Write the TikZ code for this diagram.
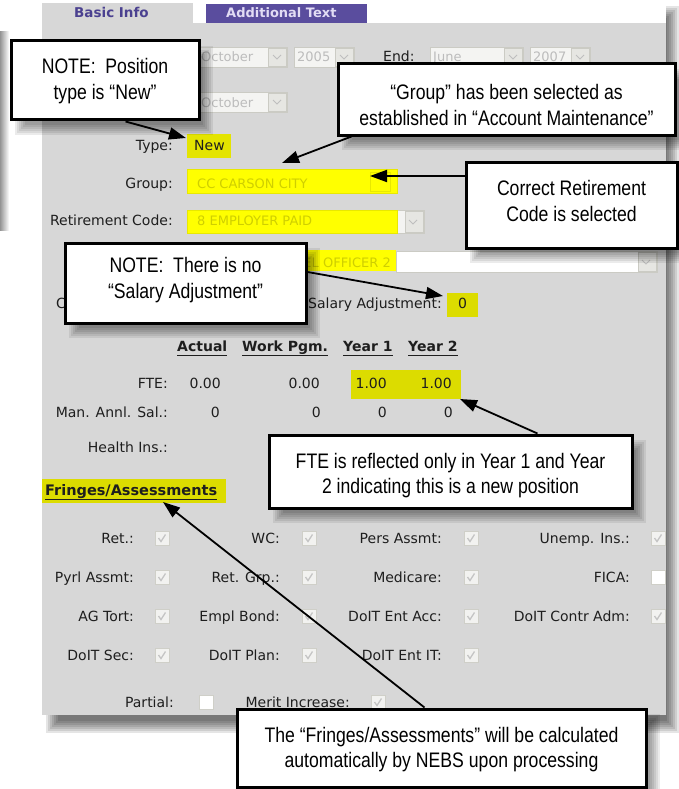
\documentclass[tikz,border=0pt]{standalone}
\usepackage{fontspec}
\setmainfont{DejaVu Sans}
\newfontfamily\callfont[FakeStretch=0.84]{Liberation Sans}
\usetikzlibrary{arrows.meta,calc}
\definecolor{panelgray}{HTML}{D7D7D7}
\definecolor{hiyel}{HTML}{FFFF00}
\definecolor{hiyelb}{HTML}{E8E800}
\definecolor{oliveyel}{HTML}{DCDC00}
\definecolor{newyel}{HTML}{E4E400}
\definecolor{yeltext}{HTML}{CFCF00}
\definecolor{ddtext}{HTML}{BCBCBC}
\definecolor{ddborder}{HTML}{CBCBC4}
\definecolor{ddfill}{HTML}{F4F4F2}
\definecolor{btnfill}{HTML}{E6E6E2}
\definecolor{ddchev}{HTML}{BEBEBE}
\definecolor{tabpurple}{HTML}{5A4D9E}
\definecolor{tabtext}{HTML}{4B4190}
\definecolor{tabtextw}{HTML}{E2DCF4}
\definecolor{labeltext}{HTML}{1E1E1E}
\definecolor{cbfill}{HTML}{F2F2F0}
\definecolor{cbborder}{HTML}{CFCFC8}
\definecolor{cbcheck}{HTML}{C4C4C4}
\newcommand{\ddbox}[4]{%
  \draw[ddborder, fill=ddfill] (#1,#2) rectangle (#3,#4);
  \draw[ddborder, fill=btnfill] ({#3-19},{#2+1}) rectangle ({#3-1},{#4-1});
  \draw[ddchev, line width=1pt] ({#3-14},{(#2+#4)/2-2}) -- ({#3-10},{(#2+#4)/2+2}) -- ({#3-6},{(#2+#4)/2-2});
}
\newcommand{\cboxon}[2]{%
  \draw[cbborder, fill=cbfill] (#1,#2) rectangle ++(14,14);
  \draw[cbcheck, line width=1.3pt] ({#1+3.5},{#2+7}) -- ({#1+6},{#2+10.5}) -- ({#1+10.5},{#2+3.5});
}
\newcommand{\cboxoff}[2]{%
  \draw[cbborder, fill=white] (#1,#2) rectangle ++(14,14);
}
\newcommand{\cshadow}[4]{%
  \foreach \s in {0,...,5} {
    \fill[black,opacity=0.08] ({#1+9-(2*\s-5)},{#2+10-(2*\s-5)}) rectangle ({#3+9+(2*\s-5)},{#4+10+(2*\s-5)});
  }
}
\begin{document}
\begin{tikzpicture}[x=1pt,y=-1pt,
  lbl/.style={font=\fontsize{14}{16}\selectfont, text=labeltext, inner sep=0pt},
  lblE/.style={lbl, anchor=base east},
  lblW/.style={lbl, anchor=base west},
  ddtxt/.style={lbl, anchor=base west, text=ddtext, font=\fontsize{13}{15}\selectfont},
  yeltxt/.style={lbl, anchor=base west, text=yeltext, font=\fontsize{13}{15}\selectfont},
  hdr/.style={lbl, anchor=base west, font=\fontsize{14}{16}\selectfont\bfseries},
  callbox/.style={draw=black, line width=3pt, fill=white, inner sep=0pt},
  calltext/.style={align=center, inner sep=0pt,
    font=\callfont\fontsize{21}{25.5}\selectfont},
  arr/.style={-{Triangle[length=17pt,width=12pt]}, line width=1.8pt, black}]
\useasboundingbox (0,0) rectangle (679,789);
% faint shadow at left edge
\shade[left color=black!42, right color=white] (0,32) rectangle (9,230);
% panel shadow
\foreach \s in {0,...,6} {
  \fill[black,opacity=0.1] ({52-(2*\s-6)},{12-(2*\s-6)}) rectangle ({673+(2*\s-6)},{727+(2*\s-6)});
}
\fill[white] (42,0) rectangle (666,23);
% panel and tabs
\fill[panelgray] (42,23) rectangle (666,715);
\fill[panelgray] (42,3) rectangle (193,23);
\fill[tabpurple] (206,4) rectangle (367,23);
\node[hdr, text=tabtext, font=\fontsize{13.5}{15}\selectfont\bfseries] (tabBasic) at (74,18) {Basic Info};
\node[hdr, text=tabtextw, font=\fontsize{13}{15}\selectfont\bfseries] (tabAdd) at (226,18) {Additional Text};
% row 1
\ddbox{190}{47}{287}{67}
\node[ddtxt] (dOct1) at (201,62) {October};
\ddbox{294}{47}{354}{67}
\node[ddtxt] (dY1) at (297,62) {2005};
\node[lblW] (lEnd) at (383,62) {End:};
\ddbox{430}{47}{523}{67}
\node[ddtxt] (dJune) at (433,62) {June};
\ddbox{530}{47}{590}{67}
\node[ddtxt] (dY2) at (533,62) {2007};
% row 2
\ddbox{190}{92}{287}{112}
\node[ddtxt] (dOct2) at (201,108) {October};
% type
\node[lblE] (lType) at (173,150) {Type:};
\fill[newyel] (187,134) rectangle (231,158);
\node[lblW] (vNew) at (194,150) {New};
% group
\node[lblE] (lGroup) at (173,188) {Group:};
\draw[hiyelb, fill=hiyel] (187,169) rectangle (397,193);
\draw[hiyelb, fill=hiyel] (370,172) rectangle (390,191);
\node[yeltxt] (vGroup) at (197,188) {CC CARSON CITY};
% retirement
\node[lblE] (lRet) at (173,225) {Retirement Code:};
\draw[ddborder, fill=ddfill] (397,210) rectangle (424,233);
\draw[ddborder, fill=btnfill] (405,211) rectangle (423,232);
\draw[ddchev, line width=1pt] (409,220) -- (413,224) -- (417,220);
\draw[hiyelb, fill=hiyel] (187,210) rectangle (397,233);
\node[yeltxt] (vRet) at (197,225) {8 EMPLOYER PAID};
% row 4
\draw[ddborder, fill=white] (396,251) rectangle (657,272);
\draw[ddborder, fill=btnfill] (638,252) rectangle (656,271);
\draw[ddchev, line width=1pt] (642,260) -- (646,264) -- (650,260);
\fill[hiyel] (187,250) rectangle (396,271);
\node[yeltxt, anchor=base east] (vTitle) at (391,267) {EL OFFICER 2};
% salary adjustment
\node[lblW] (lC) at (56,308) {C};
\node[lblW] (lSal) at (308,308) {Salary Adjustment:};
\fill[oliveyel] (447,293) rectangle (478,317);
\node[lbl, anchor=base] (vSal) at (462.5,308) {0};
% headers
\node[hdr] (hAct) at (177,351) {\underline{Actual\vphantom{gy}}};
\node[hdr] (hWork) at (242,351) {\underline{Work Pgm.\vphantom{gy}}};
\node[hdr] (hY1) at (343,351) {\underline{Year 1\vphantom{gy}}};
\node[hdr] (hY2) at (408,351) {\underline{Year 2\vphantom{gy}}};
% FTE
\fill[oliveyel] (351,370) rectangle (461,399);
\node[lblE] (lFTE) at (168,388) {FTE:};
\node[lblE] (f1) at (221,388) {0.00};
\node[lblE] (f2) at (320,388) {0.00};
\node[lblE] (f3) at (387,388) {1.00};
\node[lblE] (f4) at (452,388) {1.00};
% salary
\node[lblE] (lMan) at (168,417) {Man. Annl. Sal.:};
\node[lblE] (m1) at (220,417) {0};
\node[lblE] (m2) at (321,417) {0};
\node[lblE] (m3) at (387,417) {0};
\node[lblE] (m4) at (453,417) {0};
\node[lblE] (lHealth) at (168,452) {Health Ins.:};
% fringes
\fill[oliveyel] (42,479) rectangle (226,503);
\node[hdr, font=\fontsize{14.5}{16}\selectfont\bfseries] (hFr) at (45,495) {\underline{Fringes/Assessments\vphantom{gy}}};
% fringe rows
\node[lblE] (r1a) at (134,543) {Ret.:};        \cboxon{155}{531}
\node[lblE] (r1b) at (280,543) {WC:};          \cboxon{302}{531}
\node[lblE] (r1c) at (442,543) {Pers Assmt:};  \cboxon{464}{531}
\node[lblE] (r1d) at (630,543) {Unemp. Ins.:}; \cboxon{651}{531}
\node[lblE] (r2a) at (134,582) {Pyrl Assmt:};  \cboxon{155}{570}
\node[lblE] (r2b) at (280,582) {Ret. Grp.:};   \cboxon{302}{570}
\node[lblE] (r2c) at (442,582) {Medicare:};    \cboxon{464}{570}
\node[lblE] (r2d) at (630,582) {FICA:};        \cboxoff{651}{570}
\node[lblE] (r3a) at (134,621) {AG Tort:};     \cboxon{155}{609}
\node[lblE] (r3b) at (280,621) {Empl Bond:};   \cboxon{302}{609}
\node[lblE] (r3c) at (442,621) {DoIT Ent Acc:};\cboxon{464}{609}
\node[lblE] (r3d) at (630,621) {DoIT Contr Adm:};\cboxon{651}{609}
\node[lblE] (r4a) at (134,660) {DoIT Sec:};    \cboxon{155}{648}
\node[lblE] (r4b) at (280,660) {DoIT Plan:};   \cboxon{302}{648}
\node[lblE] (r4c) at (442,660) {DoIT Ent IT:}; \cboxon{464}{648}
\node[lblE] (r5a) at (174,707) {Partial:};     \cboxoff{199}{695}
\node[lblE] (r5b) at (350,707) {Merit Increase:}; \cboxon{371}{695}
% callout shadows
\cshadow{11}{41}{199}{120}
\cshadow{338}{64}{675}{135}
\cshadow{466}{162}{677}{248}
\cshadow{65}{243}{306}{323}
\cshadow{269}{435}{632}{508}
\cshadow{237}{709}{646}{787}
% callout boxes
\node[callbox, minimum width=188pt, minimum height=79pt] (c1) at (105,80.5) {};
\node[callbox, minimum width=337pt, minimum height=71pt] (c2) at (506.5,99.5) {};
\node[callbox, minimum width=211pt, minimum height=86pt] (c3) at (571.5,205) {};
\node[callbox, minimum width=241pt, minimum height=80pt] (c4) at (185.5,283) {};
\node[callbox, minimum width=363pt, minimum height=73pt] (c5) at (450.5,471.5) {};
\node[callbox, minimum width=409pt, minimum height=78pt] (c6) at (441.5,748) {};
% callout texts
\node[calltext] (c1t) at (105,81) {NOTE:\ \ Position\\type is “New”};
\node[calltext] (c2t) at (506.5,105) {“Group” has been selected as\\established in “Account Maintenance”};
\node[calltext] (c3t) at (571.5,201) {Correct Retirement\\Code is selected};
\node[calltext] (c4t) at (185.5,280) {NOTE:\ \ There is no\\“Salary Adjustment”};
\node[calltext] (c5t) at (450.5,475.5) {FTE is reflected only in Year 1 and Year\\2 indicating this is a new position};
\node[calltext] (c6t) at (441.5,749.5) {The “Fringes/Assessments” will be calculated\\automatically by NEBS upon processing};
% arrows
\coordinate (t1) at (186,138);
\coordinate (t2) at (282,163);
\coordinate (t3) at (370,176);
\coordinate (t4) at (443,296);
\coordinate (t5) at (460,399);
\coordinate (t6) at (163,502);
\draw[arr] ([xshift=116pt]c1.south west) -- (t1);
\draw[arr] ([xshift=15pt]c2.south west) -- (t2);
\draw[arr] ([yshift=29pt]c3.west) -- (t3);
\draw[arr] ([yshift=11pt]c4.east) -- (t4);
\draw[arr] ([xshift=270pt]c5.north west) -- (t5);
\draw[arr] ([xshift=189pt]c6.north west) -- (t6);
\end{tikzpicture}
\end{document}
